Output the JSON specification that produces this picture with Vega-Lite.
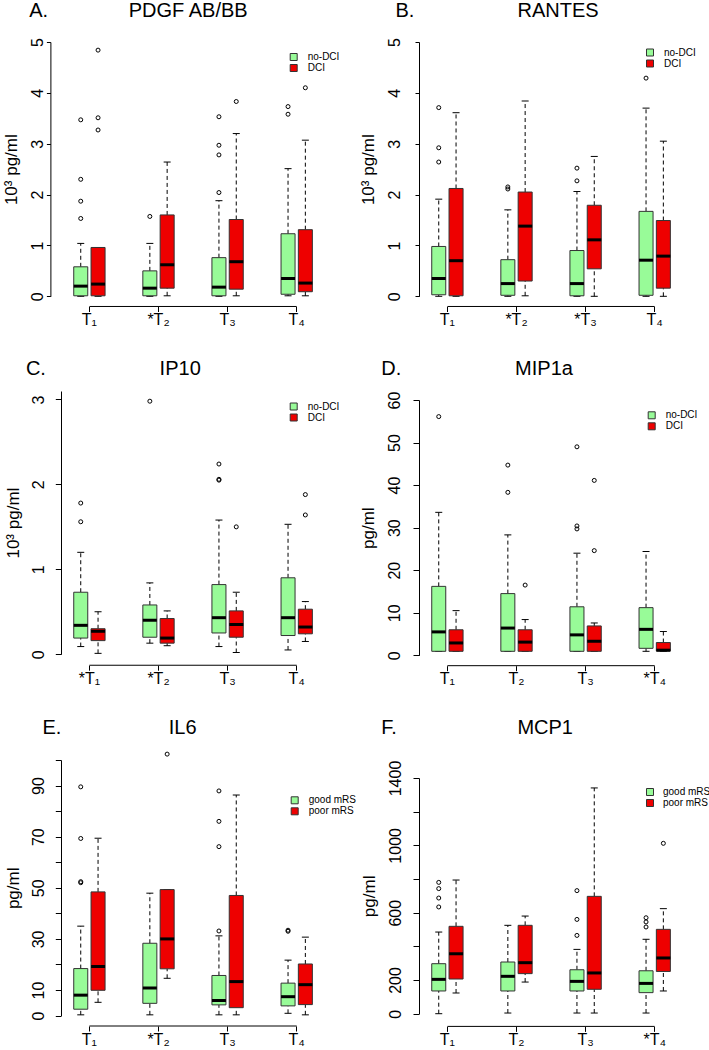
{
"$schema": "https://vega.github.io/schema/vega-lite/v6.json",
"padding": {"left": 2, "top": 0, "right": 0, "bottom": 0},
"config": {"view": {"stroke": null}, "font": "Liberation Sans", "axis": {"grid": false}},
"datasets": {
"box": [
{"p":"A","t":"T1","g":"no-DCI","lo":0,"q1":0.01,"med":0.2,"q3":0.58,"hi":1.04},
{"p":"A","t":"T1","g":"DCI","lo":0,"q1":0.01,"med":0.24,"q3":0.96,"hi":0.96},
{"p":"A","t":"T2","g":"no-DCI","lo":0,"q1":0.01,"med":0.16,"q3":0.5,"hi":1.04},
{"p":"A","t":"T2","g":"DCI","lo":0.01,"q1":0.16,"med":0.62,"q3":1.6,"hi":2.64},
{"p":"A","t":"T3","g":"no-DCI","lo":0,"q1":0.01,"med":0.18,"q3":0.76,"hi":1.88},
{"p":"A","t":"T3","g":"DCI","lo":0.01,"q1":0.14,"med":0.68,"q3":1.51,"hi":3.2},
{"p":"A","t":"T4","g":"no-DCI","lo":0.01,"q1":0.04,"med":0.35,"q3":1.23,"hi":2.51},
{"p":"A","t":"T4","g":"DCI","lo":0.01,"q1":0.09,"med":0.26,"q3":1.31,"hi":3.07},
{"p":"B","t":"T1","g":"no-DCI","lo":0,"q1":0.03,"med":0.35,"q3":0.98,"hi":1.91},
{"p":"B","t":"T1","g":"DCI","lo":0,"q1":0.01,"med":0.7,"q3":2.12,"hi":3.61},
{"p":"B","t":"T2","g":"no-DCI","lo":0,"q1":0.02,"med":0.25,"q3":0.72,"hi":1.7},
{"p":"B","t":"T2","g":"DCI","lo":0.01,"q1":0.3,"med":1.38,"q3":2.05,"hi":3.84},
{"p":"B","t":"T3","g":"no-DCI","lo":0,"q1":0.01,"med":0.25,"q3":0.9,"hi":2.06},
{"p":"B","t":"T3","g":"DCI","lo":0,"q1":0.54,"med":1.11,"q3":1.79,"hi":2.75},
{"p":"B","t":"T4","g":"no-DCI","lo":0,"q1":0.02,"med":0.71,"q3":1.67,"hi":3.7},
{"p":"B","t":"T4","g":"DCI","lo":0,"q1":0.16,"med":0.79,"q3":1.49,"hi":3.05},
{"p":"C","t":"T1","g":"no-DCI","lo":0.09,"q1":0.19,"med":0.34,"q3":0.73,"hi":1.2},
{"p":"C","t":"T1","g":"DCI","lo":0.01,"q1":0.16,"med":0.27,"q3":0.3,"hi":0.5},
{"p":"C","t":"T2","g":"no-DCI","lo":0.13,"q1":0.2,"med":0.4,"q3":0.58,"hi":0.84},
{"p":"C","t":"T2","g":"DCI","lo":0.1,"q1":0.13,"med":0.19,"q3":0.42,"hi":0.51},
{"p":"C","t":"T3","g":"no-DCI","lo":0.09,"q1":0.25,"med":0.43,"q3":0.82,"hi":1.58},
{"p":"C","t":"T3","g":"DCI","lo":0.02,"q1":0.2,"med":0.35,"q3":0.51,"hi":0.73},
{"p":"C","t":"T4","g":"no-DCI","lo":0.05,"q1":0.22,"med":0.43,"q3":0.9,"hi":1.53},
{"p":"C","t":"T4","g":"DCI","lo":0.15,"q1":0.24,"med":0.32,"q3":0.53,"hi":0.62},
{"p":"D","t":"T1","g":"no-DCI","lo":0.94,"q1":0.94,"med":5.5,"q3":16.2,"hi":33.6},
{"p":"D","t":"T1","g":"DCI","lo":0.94,"q1":0.94,"med":2.9,"q3":6.0,"hi":10.5},
{"p":"D","t":"T2","g":"no-DCI","lo":0.94,"q1":0.94,"med":6.4,"q3":14.5,"hi":28.3},
{"p":"D","t":"T2","g":"DCI","lo":0.94,"q1":0.94,"med":3.1,"q3":6.0,"hi":8.4},
{"p":"D","t":"T3","g":"no-DCI","lo":0.94,"q1":0.94,"med":4.8,"q3":11.4,"hi":24.0},
{"p":"D","t":"T3","g":"DCI","lo":0.94,"q1":0.94,"med":3.3,"q3":6.9,"hi":7.6},
{"p":"D","t":"T4","g":"no-DCI","lo":0.94,"q1":1.64,"med":6.1,"q3":11.2,"hi":24.4},
{"p":"D","t":"T4","g":"DCI","lo":0.94,"q1":1.0,"med":1.2,"q3":3.0,"hi":5.6},
{"p":"E","t":"T1","g":"good mRS","lo":0.3,"q1":2.5,"med":8.0,"q3":18.4,"hi":35},
{"p":"E","t":"T1","g":"poor mRS","lo":5.2,"q1":9.9,"med":19.2,"q3":48.4,"hi":69.4},
{"p":"E","t":"T2","g":"good mRS","lo":0.3,"q1":4.8,"med":10.8,"q3":28.3,"hi":47.9},
{"p":"E","t":"T2","g":"poor mRS","lo":14.6,"q1":18.3,"med":30.0,"q3":49.3,"hi":49.3},
{"p":"E","t":"T3","g":"good mRS","lo":0.3,"q1":4.2,"med":5.9,"q3":15.7,"hi":31.2},
{"p":"E","t":"T3","g":"poor mRS","lo":0.3,"q1":3.1,"med":13.3,"q3":47.0,"hi":86.3},
{"p":"E","t":"T4","g":"good mRS","lo":0.9,"q1":3.8,"med":7.4,"q3":12.7,"hi":21.7},
{"p":"E","t":"T4","g":"poor mRS","lo":0.3,"q1":4.3,"med":12.1,"q3":20.2,"hi":30.7},
{"p":"F","t":"T1","g":"good mRS","lo":0,"q1":135,"med":204,"q3":297,"hi":485},
{"p":"F","t":"T1","g":"poor mRS","lo":123,"q1":206,"med":356,"q3":519,"hi":794},
{"p":"F","t":"T2","g":"good mRS","lo":4,"q1":135,"med":222,"q3":307,"hi":525},
{"p":"F","t":"T2","g":"poor mRS","lo":188,"q1":238,"med":303,"q3":525,"hi":580},
{"p":"F","t":"T3","g":"good mRS","lo":4,"q1":135,"med":192,"q3":261,"hi":382},
{"p":"F","t":"T3","g":"poor mRS","lo":4,"q1":145,"med":242,"q3":697,"hi":1341},
{"p":"F","t":"T4","g":"good mRS","lo":4,"q1":125,"med":180,"q3":255,"hi":442},
{"p":"F","t":"T4","g":"poor mRS","lo":135,"q1":251,"med":331,"q3":501,"hi":624}
],
"out": [
{"p":"A","t":"T1","g":"no-DCI","v":1.53},{"p":"A","t":"T1","g":"no-DCI","v":1.87},{"p":"A","t":"T1","g":"no-DCI","v":2.3},{"p":"A","t":"T1","g":"no-DCI","v":3.47},
{"p":"A","t":"T1","g":"DCI","v":3.27},{"p":"A","t":"T1","g":"DCI","v":3.51},{"p":"A","t":"T1","g":"DCI","v":4.84},
{"p":"A","t":"T2","g":"no-DCI","v":1.57},
{"p":"A","t":"T3","g":"no-DCI","v":2.04},{"p":"A","t":"T3","g":"no-DCI","v":2.78},{"p":"A","t":"T3","g":"no-DCI","v":2.97},{"p":"A","t":"T3","g":"no-DCI","v":3.53},
{"p":"A","t":"T3","g":"DCI","v":3.83},
{"p":"A","t":"T4","g":"no-DCI","v":3.58},{"p":"A","t":"T4","g":"no-DCI","v":3.73},
{"p":"A","t":"T4","g":"DCI","v":4.1},
{"p":"B","t":"T1","g":"no-DCI","v":2.64},{"p":"B","t":"T1","g":"no-DCI","v":2.92},{"p":"B","t":"T1","g":"no-DCI","v":3.71},
{"p":"B","t":"T2","g":"no-DCI","v":2.11},{"p":"B","t":"T2","g":"no-DCI","v":2.15},
{"p":"B","t":"T3","g":"no-DCI","v":2.27},{"p":"B","t":"T3","g":"no-DCI","v":2.52},
{"p":"B","t":"T4","g":"no-DCI","v":4.29},
{"p":"C","t":"T1","g":"no-DCI","v":1.56},{"p":"C","t":"T1","g":"no-DCI","v":1.78},
{"p":"C","t":"T2","g":"no-DCI","v":2.98},
{"p":"C","t":"T3","g":"no-DCI","v":2.05},{"p":"C","t":"T3","g":"no-DCI","v":2.06},{"p":"C","t":"T3","g":"no-DCI","v":2.24},
{"p":"C","t":"T3","g":"DCI","v":1.5},
{"p":"C","t":"T4","g":"DCI","v":1.64},{"p":"C","t":"T4","g":"DCI","v":1.88},
{"p":"D","t":"T1","g":"no-DCI","v":56.1},
{"p":"D","t":"T2","g":"no-DCI","v":38.3},{"p":"D","t":"T2","g":"no-DCI","v":44.7},
{"p":"D","t":"T2","g":"DCI","v":16.5},
{"p":"D","t":"T3","g":"no-DCI","v":29.7},{"p":"D","t":"T3","g":"no-DCI","v":30.4},{"p":"D","t":"T3","g":"no-DCI","v":49.0},
{"p":"D","t":"T3","g":"DCI","v":24.6},{"p":"D","t":"T3","g":"DCI","v":41.1},
{"p":"E","t":"T1","g":"good mRS","v":52},{"p":"E","t":"T1","g":"good mRS","v":52.4},{"p":"E","t":"T1","g":"good mRS","v":69.3},{"p":"E","t":"T1","g":"good mRS","v":89.5},
{"p":"E","t":"T2","g":"poor mRS","v":102.3},
{"p":"E","t":"T3","g":"good mRS","v":33.1},{"p":"E","t":"T3","g":"good mRS","v":66.1},{"p":"E","t":"T3","g":"good mRS","v":76.0},{"p":"E","t":"T3","g":"good mRS","v":87.9},
{"p":"E","t":"T4","g":"good mRS","v":33.0},{"p":"E","t":"T4","g":"good mRS","v":33.4},
{"p":"F","t":"T1","g":"good mRS","v":634},{"p":"F","t":"T1","g":"good mRS","v":687},{"p":"F","t":"T1","g":"good mRS","v":743},{"p":"F","t":"T1","g":"good mRS","v":780},
{"p":"F","t":"T3","g":"good mRS","v":465},{"p":"F","t":"T3","g":"good mRS","v":560},{"p":"F","t":"T3","g":"good mRS","v":731},
{"p":"F","t":"T4","g":"good mRS","v":515},{"p":"F","t":"T4","g":"good mRS","v":545},{"p":"F","t":"T4","g":"good mRS","v":570},
{"p":"F","t":"T4","g":"poor mRS","v":1012}
]
},
"spacing": 1,
"resolve": {"scale": {"x": "independent", "y": "independent", "color": "independent", "xOffset": "independent"}, "legend": {"color": "independent"}},
"hconcat": [
{"vconcat": [
{"width": 264.1, "height": 254.3, "data": {"name": "box"}, "transform": [{"filter": "datum.p == 'A'"}], "resolve": {"axis": {"x": "independent"}},
"layer": [
{"mark": {"type": "rule", "color": "black", "strokeWidth": 1, "strokeDash": [4, 3]},
 "encoding": {
  "x": {"field": "t", "type": "nominal", "scale": {"domain": ["T1","T2","T3","T4"], "paddingInner": 0.5, "paddingOuter": 0.161},
        "axis": {"orient": "bottom", "domain": false, "offset": 10.2, "tickSize": 5, "tickColor": "black", "labelColor": "black", "labelFontSize": 16, "labelPadding": 0, "labelAngle": 0, "title": null, "labelExpr": "datum.value=='T1'?'T₁':datum.value=='T2'?'*T₂':datum.value=='T3'?'T₃':'T₄'"}},
  "xOffset": {"field": "g", "type": "nominal", "scale": {"domain": ["no-DCI","DCI"], "paddingInner": 0.19, "paddingOuter": 0.093}},
  "y": {"field": "lo", "type": "quantitative", "scale": {"domain": [0, 5], "nice": false, "zero": false},
        "axis": {"values": [0,1,2,3,4,5], "tickCount": 20, "format": "d", "labelOverlap": false, "offset": 10.6, "tickSize": 4, "labelPadding": 1, "labelAngle": -90, "labelFontSize": 16, "labelColor": "black", "tickColor": "black", "domainColor": "black", "title": "10³ pg/ml", "titleFontSize": 17, "titleFontWeight": "normal", "titleColor": "black", "titlePadding": 9}},
  "y2": {"field": "q1"}}},
{"mark": {"type": "rule", "color": "black", "strokeWidth": 1, "strokeDash": [4, 3]},
 "encoding": {"x": {"field": "t", "type": "nominal", "axis": null}, "xOffset": {"field": "g", "type": "nominal"}, "y": {"field": "q3", "type": "quantitative"}, "y2": {"field": "hi"}}},
{"mark": {"type": "tick", "color": "black", "size": 7, "thickness": 1, "opacity": 1},
 "encoding": {"x": {"field": "t", "type": "nominal", "axis": {"orient": "top", "domain": false, "ticks": false, "labels": false, "title": "PDGF AB/BB", "titleFontSize": 20, "titleFontWeight": "normal", "titleColor": "black", "titleX": 126.7, "titleY": -26, "titleAlign": "center", "titleBaseline": "alphabetic", "titleAngle": 0}}, "xOffset": {"field": "g", "type": "nominal"}, "y": {"field": "lo", "type": "quantitative"}}},
{"mark": {"type": "tick", "color": "black", "size": 7, "thickness": 1, "opacity": 1},
 "encoding": {"x": {"field": "t", "type": "nominal", "axis": {"orient": "top", "domain": false, "ticks": false, "labels": false, "title": "A.", "titleFontSize": 20, "titleFontWeight": "normal", "titleColor": "black", "titleX": -32.3, "titleY": -26, "titleAlign": "left", "titleBaseline": "alphabetic", "titleAngle": 0}}, "xOffset": {"field": "g", "type": "nominal"}, "y": {"field": "hi", "type": "quantitative"}}},
{"mark": {"type": "bar", "stroke": "#333333", "strokeWidth": 1, "opacity": 1},
 "encoding": {"x": {"field": "t", "type": "nominal", "axis": null}, "xOffset": {"field": "g", "type": "nominal"}, "y": {"field": "q1", "type": "quantitative"}, "y2": {"field": "q3"},
  "color": {"field": "g", "type": "nominal", "scale": {"domain": ["no-DCI","DCI"], "range": ["#98FB98","#EE0000"]}, "legend": {"orient": "none", "legendX": 227.7, "legendY": 10, "title": null, "symbolType": "square", "symbolSize": 49, "symbolStrokeColor": "#333333", "symbolStrokeWidth": 1, "symbolOpacity": 1, "labelFontSize": 10, "labelColor": "black", "labelOffset": 9, "rowPadding": -3, "padding": 0}}}},
{"mark": {"type": "tick", "color": "black", "size": 14, "thickness": 3, "opacity": 1},
 "encoding": {"x": {"field": "t", "type": "nominal", "axis": null}, "xOffset": {"field": "g", "type": "nominal"}, "y": {"field": "med", "type": "quantitative"}}},
{"data": {"name": "out"}, "transform": [{"filter": "datum.p == 'A'"}],
 "mark": {"type": "point", "shape": "circle", "filled": false, "size": 16, "color": "black", "strokeWidth": 1, "opacity": 1},
 "encoding": {"x": {"field": "t", "type": "nominal", "axis": null}, "xOffset": {"field": "g", "type": "nominal"}, "y": {"field": "v", "type": "quantitative"}}},
{"data": {"values": [{}]}, "mark": {"type": "rule", "color": "black", "strokeWidth": 1},
 "encoding": {"x": {"datum": "T1", "type": "nominal", "bandPosition": 0.5, "axis": null}, "x2": {"datum": "T4", "bandPosition": 0.5}, "y": {"datum": -0.2, "type": "quantitative"}}}
]},
{"width": 264.1, "height": 263.2, "data": {"name": "box"}, "transform": [{"filter": "datum.p == 'C'"}], "resolve": {"axis": {"x": "independent"}},
"layer": [
{"mark": {"type": "rule", "color": "black", "strokeWidth": 1, "strokeDash": [4, 3]},
 "encoding": {
  "x": {"field": "t", "type": "nominal", "scale": {"domain": ["T1","T2","T3","T4"], "paddingInner": 0.5, "paddingOuter": 0.161},
        "axis": {"orient": "bottom", "domain": false, "offset": 11, "tickSize": 5, "tickColor": "black", "labelColor": "black", "labelFontSize": 16, "labelPadding": 0, "labelAngle": 0, "title": null, "labelExpr": "datum.value=='T1'?'*T₁':datum.value=='T2'?'*T₂':datum.value=='T3'?'T₃':'T₄'"}},
  "xOffset": {"field": "g", "type": "nominal", "scale": {"domain": ["no-DCI","DCI"], "paddingInner": 0.19, "paddingOuter": 0.093}},
  "y": {"field": "lo", "type": "quantitative", "scale": {"domain": [0, 3.1], "nice": false, "zero": false},
        "axis": {"values": [0,1,2,3], "tickCount": 20, "format": "d", "labelOverlap": false, "tickSize": 5.7, "labelPadding": 8.6, "labelAngle": -90, "labelFontSize": 16, "labelColor": "black", "tickColor": "black", "domainColor": "black", "title": "10³ pg/ml", "titleFontSize": 17, "titleFontWeight": "normal", "titleColor": "black", "titlePadding": 8}},
  "y2": {"field": "q1"}}},
{"mark": {"type": "rule", "color": "black", "strokeWidth": 1, "strokeDash": [4, 3]},
 "encoding": {"x": {"field": "t", "type": "nominal", "axis": null}, "xOffset": {"field": "g", "type": "nominal"}, "y": {"field": "q3", "type": "quantitative"}, "y2": {"field": "hi"}}},
{"mark": {"type": "tick", "color": "black", "size": 7, "thickness": 1, "opacity": 1},
 "encoding": {"x": {"field": "t", "type": "nominal", "axis": {"orient": "top", "domain": false, "ticks": false, "labels": false, "title": "IP10", "titleFontSize": 20, "titleFontWeight": "normal", "titleColor": "black", "titleX": 118.7, "titleY": -16.8, "titleAlign": "center", "titleBaseline": "alphabetic", "titleAngle": 0}}, "xOffset": {"field": "g", "type": "nominal"}, "y": {"field": "lo", "type": "quantitative"}}},
{"mark": {"type": "tick", "color": "black", "size": 7, "thickness": 1, "opacity": 1},
 "encoding": {"x": {"field": "t", "type": "nominal", "axis": {"orient": "top", "domain": false, "ticks": false, "labels": false, "title": "C.", "titleFontSize": 20, "titleFontWeight": "normal", "titleColor": "black", "titleX": -35.6, "titleY": -16.8, "titleAlign": "left", "titleBaseline": "alphabetic", "titleAngle": 0}}, "xOffset": {"field": "g", "type": "nominal"}, "y": {"field": "hi", "type": "quantitative"}}},
{"mark": {"type": "bar", "stroke": "#333333", "strokeWidth": 1, "opacity": 1},
 "encoding": {"x": {"field": "t", "type": "nominal", "axis": null}, "xOffset": {"field": "g", "type": "nominal"}, "y": {"field": "q1", "type": "quantitative"}, "y2": {"field": "q3"},
  "color": {"field": "g", "type": "nominal", "scale": {"domain": ["no-DCI","DCI"], "range": ["#98FB98","#EE0000"]}, "legend": {"orient": "none", "legendX": 227.7, "legendY": 10.5, "title": null, "symbolType": "square", "symbolSize": 49, "symbolStrokeColor": "#333333", "symbolStrokeWidth": 1, "symbolOpacity": 1, "labelFontSize": 10, "labelColor": "black", "labelOffset": 9, "rowPadding": -3, "padding": 0}}}},
{"mark": {"type": "tick", "color": "black", "size": 14, "thickness": 3, "opacity": 1},
 "encoding": {"x": {"field": "t", "type": "nominal", "axis": null}, "xOffset": {"field": "g", "type": "nominal"}, "y": {"field": "med", "type": "quantitative"}}},
{"data": {"name": "out"}, "transform": [{"filter": "datum.p == 'C'"}],
 "mark": {"type": "point", "shape": "circle", "filled": false, "size": 16, "color": "black", "strokeWidth": 1, "opacity": 1},
 "encoding": {"x": {"field": "t", "type": "nominal", "axis": null}, "xOffset": {"field": "g", "type": "nominal"}, "y": {"field": "v", "type": "quantitative"}}},
{"data": {"values": [{}]}, "mark": {"type": "rule", "color": "black", "strokeWidth": 1},
 "encoding": {"x": {"datum": "T1", "type": "nominal", "bandPosition": 0.5, "axis": null}, "x2": {"datum": "T4", "bandPosition": 0.5}, "y": {"datum": -0.13, "type": "quantitative"}}}
]},
{"width": 264.1, "height": 255.6, "data": {"name": "box"}, "transform": [{"filter": "datum.p == 'E'"}], "resolve": {"axis": {"x": "independent"}},
"layer": [
{"mark": {"type": "rule", "color": "black", "strokeWidth": 1, "strokeDash": [4, 3]},
 "encoding": {
  "x": {"field": "t", "type": "nominal", "scale": {"domain": ["T1","T2","T3","T4"], "paddingInner": 0.5, "paddingOuter": 0.161},
        "axis": {"orient": "bottom", "domain": false, "offset": 10.4, "tickSize": 5, "tickColor": "black", "labelColor": "black", "labelFontSize": 16, "labelPadding": 0, "labelAngle": 0, "title": null, "labelExpr": "datum.value=='T1'?'T₁':datum.value=='T2'?'*T₂':datum.value=='T3'?'T₃':'T₄'"}},
  "xOffset": {"field": "g", "type": "nominal", "scale": {"domain": ["good mRS","poor mRS"], "paddingInner": 0.19, "paddingOuter": 0.093}},
  "y": {"field": "lo", "type": "quantitative", "scale": {"domain": [0, 100], "nice": false, "zero": false},
        "axis": {"values": [0,10,20,30,40,50,60,70,80,90,100], "tickCount": 20, "labelExpr": "(datum.value == 0 || datum.value == 10 || datum.value == 30 || datum.value == 50 || datum.value == 70 || datum.value == 90) ? datum.label : ''", "labelOverlap": false, "tickSize": 5.7, "labelPadding": 8.6, "labelAngle": -90, "labelFontSize": 16, "labelColor": "black", "tickColor": "black", "domainColor": "black", "title": "pg/ml", "titleFontSize": 17, "titleFontWeight": "normal", "titleColor": "black", "titlePadding": 8}},
  "y2": {"field": "q1"}}},
{"mark": {"type": "rule", "color": "black", "strokeWidth": 1, "strokeDash": [4, 3]},
 "encoding": {"x": {"field": "t", "type": "nominal", "axis": null}, "xOffset": {"field": "g", "type": "nominal"}, "y": {"field": "q3", "type": "quantitative"}, "y2": {"field": "hi"}}},
{"mark": {"type": "tick", "color": "black", "size": 7, "thickness": 1, "opacity": 1},
 "encoding": {"x": {"field": "t", "type": "nominal", "axis": {"orient": "top", "domain": false, "ticks": false, "labels": false, "title": "IL6", "titleFontSize": 20, "titleFontWeight": "normal", "titleColor": "black", "titleX": 121.2, "titleY": -26.7, "titleAlign": "center", "titleBaseline": "alphabetic", "titleAngle": 0}}, "xOffset": {"field": "g", "type": "nominal"}, "y": {"field": "lo", "type": "quantitative"}}},
{"mark": {"type": "tick", "color": "black", "size": 7, "thickness": 1, "opacity": 1},
 "encoding": {"x": {"field": "t", "type": "nominal", "axis": {"orient": "top", "domain": false, "ticks": false, "labels": false, "title": "E.", "titleFontSize": 20, "titleFontWeight": "normal", "titleColor": "black", "titleX": -19, "titleY": -26.7, "titleAlign": "left", "titleBaseline": "alphabetic", "titleAngle": 0}}, "xOffset": {"field": "g", "type": "nominal"}, "y": {"field": "hi", "type": "quantitative"}}},
{"mark": {"type": "bar", "stroke": "#333333", "strokeWidth": 1, "opacity": 1},
 "encoding": {"x": {"field": "t", "type": "nominal", "axis": null}, "xOffset": {"field": "g", "type": "nominal"}, "y": {"field": "q1", "type": "quantitative"}, "y2": {"field": "q3"},
  "color": {"field": "g", "type": "nominal", "scale": {"domain": ["good mRS","poor mRS"], "range": ["#98FB98","#EE0000"]}, "legend": {"orient": "none", "legendX": 228.7, "legendY": 35.3, "title": null, "symbolType": "square", "symbolSize": 49, "symbolStrokeColor": "#333333", "symbolStrokeWidth": 1, "symbolOpacity": 1, "labelFontSize": 10, "labelColor": "black", "labelOffset": 9, "rowPadding": -3, "padding": 0}}}},
{"mark": {"type": "tick", "color": "black", "size": 14, "thickness": 3, "opacity": 1},
 "encoding": {"x": {"field": "t", "type": "nominal", "axis": null}, "xOffset": {"field": "g", "type": "nominal"}, "y": {"field": "med", "type": "quantitative"}}},
{"data": {"name": "out"}, "transform": [{"filter": "datum.p == 'E'"}],
 "mark": {"type": "point", "shape": "circle", "filled": false, "size": 16, "color": "black", "strokeWidth": 1, "opacity": 1},
 "encoding": {"x": {"field": "t", "type": "nominal", "axis": null}, "xOffset": {"field": "g", "type": "nominal"}, "y": {"field": "v", "type": "quantitative"}}},
{"data": {"values": [{}]}, "mark": {"type": "rule", "color": "black", "strokeWidth": 1},
 "encoding": {"x": {"datum": "T1", "type": "nominal", "bandPosition": 0.5, "axis": null}, "x2": {"datum": "T4", "bandPosition": 0.5}, "y": {"datum": -4.07, "type": "quantitative"}}}
]}
], "spacing": 30, "resolve": {"scale": {"x": "independent", "y": "independent", "color": "independent", "xOffset": "independent"}, "legend": {"color": "independent"}}},
{"vconcat": [
{"width": 264.1, "height": 254.3, "data": {"name": "box"}, "transform": [{"filter": "datum.p == 'B'"}], "resolve": {"axis": {"x": "independent"}},
"layer": [
{"mark": {"type": "rule", "color": "black", "strokeWidth": 1, "strokeDash": [4, 3]},
 "encoding": {
  "x": {"field": "t", "type": "nominal", "scale": {"domain": ["T1","T2","T3","T4"], "paddingInner": 0.5, "paddingOuter": 0.161},
        "axis": {"orient": "bottom", "domain": false, "offset": 10.2, "tickSize": 5, "tickColor": "black", "labelColor": "black", "labelFontSize": 16, "labelPadding": 0, "labelAngle": 0, "title": null, "labelExpr": "datum.value=='T1'?'T₁':datum.value=='T2'?'*T₂':datum.value=='T3'?'*T₃':'T₄'"}},
  "xOffset": {"field": "g", "type": "nominal", "scale": {"domain": ["no-DCI","DCI"], "paddingInner": 0.19, "paddingOuter": 0.093}},
  "y": {"field": "lo", "type": "quantitative", "scale": {"domain": [0, 5], "nice": false, "zero": false},
        "axis": {"values": [0,1,2,3,4,5], "tickCount": 20, "format": "d", "labelOverlap": false, "tickSize": 4, "labelPadding": 13, "labelAngle": -90, "labelFontSize": 16, "labelColor": "black", "tickColor": "black", "domainColor": "black", "title": "10³ pg/ml", "titleFontSize": 17, "titleFontWeight": "normal", "titleColor": "black", "titlePadding": 9}},
  "y2": {"field": "q1"}}},
{"mark": {"type": "rule", "color": "black", "strokeWidth": 1, "strokeDash": [4, 3]},
 "encoding": {"x": {"field": "t", "type": "nominal", "axis": null}, "xOffset": {"field": "g", "type": "nominal"}, "y": {"field": "q3", "type": "quantitative"}, "y2": {"field": "hi"}}},
{"mark": {"type": "tick", "color": "black", "size": 7, "thickness": 1, "opacity": 1},
 "encoding": {"x": {"field": "t", "type": "nominal", "axis": {"orient": "top", "domain": false, "ticks": false, "labels": false, "title": "RANTES", "titleFontSize": 20, "titleFontWeight": "normal", "titleColor": "black", "titleX": 138.5, "titleY": -26, "titleAlign": "center", "titleBaseline": "alphabetic", "titleAngle": 0}}, "xOffset": {"field": "g", "type": "nominal"}, "y": {"field": "lo", "type": "quantitative"}}},
{"mark": {"type": "tick", "color": "black", "size": 7, "thickness": 1, "opacity": 1},
 "encoding": {"x": {"field": "t", "type": "nominal", "axis": {"orient": "top", "domain": false, "ticks": false, "labels": false, "title": "B.", "titleFontSize": 20, "titleFontWeight": "normal", "titleColor": "black", "titleX": -24, "titleY": -26, "titleAlign": "left", "titleBaseline": "alphabetic", "titleAngle": 0}}, "xOffset": {"field": "g", "type": "nominal"}, "y": {"field": "hi", "type": "quantitative"}}},
{"mark": {"type": "bar", "stroke": "#333333", "strokeWidth": 1, "opacity": 1},
 "encoding": {"x": {"field": "t", "type": "nominal", "axis": null}, "xOffset": {"field": "g", "type": "nominal"}, "y": {"field": "q1", "type": "quantitative"}, "y2": {"field": "q3"},
  "color": {"field": "g", "type": "nominal", "scale": {"domain": ["no-DCI","DCI"], "range": ["#98FB98","#EE0000"]}, "legend": {"orient": "none", "legendX": 226, "legendY": 5.5, "title": null, "symbolType": "square", "symbolSize": 49, "symbolStrokeColor": "#333333", "symbolStrokeWidth": 1, "symbolOpacity": 1, "labelFontSize": 10, "labelColor": "black", "labelOffset": 9, "rowPadding": -3, "padding": 0}}}},
{"mark": {"type": "tick", "color": "black", "size": 14, "thickness": 3, "opacity": 1},
 "encoding": {"x": {"field": "t", "type": "nominal", "axis": null}, "xOffset": {"field": "g", "type": "nominal"}, "y": {"field": "med", "type": "quantitative"}}},
{"data": {"name": "out"}, "transform": [{"filter": "datum.p == 'B'"}],
 "mark": {"type": "point", "shape": "circle", "filled": false, "size": 16, "color": "black", "strokeWidth": 1, "opacity": 1},
 "encoding": {"x": {"field": "t", "type": "nominal", "axis": null}, "xOffset": {"field": "g", "type": "nominal"}, "y": {"field": "v", "type": "quantitative"}}},
{"data": {"values": [{}]}, "mark": {"type": "rule", "color": "black", "strokeWidth": 1},
 "encoding": {"x": {"datum": "T1", "type": "nominal", "bandPosition": 0.5, "axis": null}, "x2": {"datum": "T4", "bandPosition": 0.5}, "y": {"datum": -0.2, "type": "quantitative"}}}
]},
{"width": 264.1, "height": 255.3, "data": {"name": "box"}, "transform": [{"filter": "datum.p == 'D'"}], "resolve": {"axis": {"x": "independent"}},
"layer": [
{"mark": {"type": "rule", "color": "black", "strokeWidth": 1, "strokeDash": [4, 3]},
 "encoding": {
  "x": {"field": "t", "type": "nominal", "scale": {"domain": ["T1","T2","T3","T4"], "paddingInner": 0.5, "paddingOuter": 0.161},
        "axis": {"orient": "bottom", "domain": false, "offset": 10.4, "tickSize": 5, "tickColor": "black", "labelColor": "black", "labelFontSize": 16, "labelPadding": 0, "labelAngle": 0, "title": null, "labelExpr": "datum.value=='T1'?'T₁':datum.value=='T2'?'T₂':datum.value=='T3'?'T₃':'*T₄'"}},
  "xOffset": {"field": "g", "type": "nominal", "scale": {"domain": ["no-DCI","DCI"], "paddingInner": 0.19, "paddingOuter": 0.093}},
  "y": {"field": "lo", "type": "quantitative", "scale": {"domain": [0, 60], "nice": false, "zero": false},
        "axis": {"values": [0,10,20,30,40,50,60], "tickCount": 20, "labelOverlap": false, "tickSize": 6, "labelPadding": 10.5, "labelAngle": -90, "labelFontSize": 16, "labelColor": "black", "tickColor": "black", "domainColor": "black", "title": "pg/ml", "titleFontSize": 17, "titleFontWeight": "normal", "titleColor": "black", "titlePadding": 9}},
  "y2": {"field": "q1"}}},
{"mark": {"type": "rule", "color": "black", "strokeWidth": 1, "strokeDash": [4, 3]},
 "encoding": {"x": {"field": "t", "type": "nominal", "axis": null}, "xOffset": {"field": "g", "type": "nominal"}, "y": {"field": "q3", "type": "quantitative"}, "y2": {"field": "hi"}}},
{"mark": {"type": "tick", "color": "black", "size": 7, "thickness": 1, "opacity": 1},
 "encoding": {"x": {"field": "t", "type": "nominal", "axis": {"orient": "top", "domain": false, "ticks": false, "labels": false, "title": "MIP1a", "titleFontSize": 20, "titleFontWeight": "normal", "titleColor": "black", "titleX": 124.5, "titleY": -25.3, "titleAlign": "center", "titleBaseline": "alphabetic", "titleAngle": 0}}, "xOffset": {"field": "g", "type": "nominal"}, "y": {"field": "lo", "type": "quantitative"}}},
{"mark": {"type": "tick", "color": "black", "size": 7, "thickness": 1, "opacity": 1},
 "encoding": {"x": {"field": "t", "type": "nominal", "axis": {"orient": "top", "domain": false, "ticks": false, "labels": false, "title": "D.", "titleFontSize": 20, "titleFontWeight": "normal", "titleColor": "black", "titleX": -38.3, "titleY": -25.3, "titleAlign": "left", "titleBaseline": "alphabetic", "titleAngle": 0}}, "xOffset": {"field": "g", "type": "nominal"}, "y": {"field": "hi", "type": "quantitative"}}},
{"mark": {"type": "bar", "stroke": "#333333", "strokeWidth": 1, "opacity": 1},
 "encoding": {"x": {"field": "t", "type": "nominal", "axis": null}, "xOffset": {"field": "g", "type": "nominal"}, "y": {"field": "q1", "type": "quantitative"}, "y2": {"field": "q3"},
  "color": {"field": "g", "type": "nominal", "scale": {"domain": ["no-DCI","DCI"], "range": ["#98FB98","#EE0000"]}, "legend": {"orient": "none", "legendX": 227.7, "legendY": 10.3, "title": null, "symbolType": "square", "symbolSize": 49, "symbolStrokeColor": "#333333", "symbolStrokeWidth": 1, "symbolOpacity": 1, "labelFontSize": 10, "labelColor": "black", "labelOffset": 9, "rowPadding": -3, "padding": 0}}}},
{"mark": {"type": "tick", "color": "black", "size": 14, "thickness": 3, "opacity": 1},
 "encoding": {"x": {"field": "t", "type": "nominal", "axis": null}, "xOffset": {"field": "g", "type": "nominal"}, "y": {"field": "med", "type": "quantitative"}}},
{"data": {"name": "out"}, "transform": [{"filter": "datum.p == 'D'"}],
 "mark": {"type": "point", "shape": "circle", "filled": false, "size": 16, "color": "black", "strokeWidth": 1, "opacity": 1},
 "encoding": {"x": {"field": "t", "type": "nominal", "axis": null}, "xOffset": {"field": "g", "type": "nominal"}, "y": {"field": "v", "type": "quantitative"}}},
{"data": {"values": [{}]}, "mark": {"type": "rule", "color": "black", "strokeWidth": 1},
 "encoding": {"x": {"datum": "T1", "type": "nominal", "bandPosition": 0.5, "axis": null}, "x2": {"datum": "T4", "bandPosition": 0.5}, "y": {"datum": -2.44, "type": "quantitative"}}}
]},
{"width": 264.1, "height": 235.7, "data": {"name": "box"}, "transform": [{"filter": "datum.p == 'F'"}], "resolve": {"axis": {"x": "independent"}},
"layer": [
{"mark": {"type": "rule", "color": "black", "strokeWidth": 1, "strokeDash": [4, 3]},
 "encoding": {
  "x": {"field": "t", "type": "nominal", "scale": {"domain": ["T1","T2","T3","T4"], "paddingInner": 0.5, "paddingOuter": 0.161},
        "axis": {"orient": "bottom", "domain": false, "offset": 12.7, "tickSize": 5, "tickColor": "black", "labelColor": "black", "labelFontSize": 16, "labelPadding": 0, "labelAngle": 0, "title": null, "labelExpr": "datum.value=='T1'?'T₁':datum.value=='T2'?'T₂':datum.value=='T3'?'T₃':'*T₄'"}},
  "xOffset": {"field": "g", "type": "nominal", "scale": {"domain": ["good mRS","poor mRS"], "paddingInner": 0.19, "paddingOuter": 0.093}},
  "y": {"field": "lo", "type": "quantitative", "scale": {"domain": [0, 1400], "nice": false, "zero": false},
        "axis": {"values": [0,200,400,600,800,1000,1200,1400], "tickCount": 20, "labelExpr": "(datum.value == 0 || datum.value == 200 || datum.value == 600 || datum.value == 1000 || datum.value == 1400) ? datum.label : ''", "format": "d", "labelOverlap": false, "tickSize": 6, "labelPadding": 10, "labelAngle": -90, "labelFontSize": 16, "labelColor": "black", "tickColor": "black", "domainColor": "black", "title": "pg/ml", "titleFontSize": 17, "titleFontWeight": "normal", "titleColor": "black", "titlePadding": 9}},
  "y2": {"field": "q1"}}},
{"mark": {"type": "rule", "color": "black", "strokeWidth": 1, "strokeDash": [4, 3]},
 "encoding": {"x": {"field": "t", "type": "nominal", "axis": null}, "xOffset": {"field": "g", "type": "nominal"}, "y": {"field": "q3", "type": "quantitative"}, "y2": {"field": "hi"}}},
{"mark": {"type": "tick", "color": "black", "size": 7, "thickness": 1, "opacity": 1},
 "encoding": {"x": {"field": "t", "type": "nominal", "axis": {"orient": "top", "domain": false, "ticks": false, "labels": false, "title": "MCP1", "titleFontSize": 20, "titleFontWeight": "normal", "titleColor": "black", "titleX": 125.7, "titleY": -44.3, "titleAlign": "center", "titleBaseline": "alphabetic", "titleAngle": 0}}, "xOffset": {"field": "g", "type": "nominal"}, "y": {"field": "lo", "type": "quantitative"}}},
{"mark": {"type": "tick", "color": "black", "size": 7, "thickness": 1, "opacity": 1},
 "encoding": {"x": {"field": "t", "type": "nominal", "axis": {"orient": "top", "domain": false, "ticks": false, "labels": false, "title": "F.", "titleFontSize": 20, "titleFontWeight": "normal", "titleColor": "black", "titleX": -38.3, "titleY": -44.3, "titleAlign": "left", "titleBaseline": "alphabetic", "titleAngle": 0}}, "xOffset": {"field": "g", "type": "nominal"}, "y": {"field": "hi", "type": "quantitative"}}},
{"mark": {"type": "bar", "stroke": "#333333", "strokeWidth": 1, "opacity": 1},
 "encoding": {"x": {"field": "t", "type": "nominal", "axis": null}, "xOffset": {"field": "g", "type": "nominal"}, "y": {"field": "q1", "type": "quantitative"}, "y2": {"field": "q3"},
  "color": {"field": "g", "type": "nominal", "scale": {"domain": ["good mRS","poor mRS"], "range": ["#98FB98","#EE0000"]}, "legend": {"orient": "none", "legendX": 226, "legendY": 9, "title": null, "symbolType": "square", "symbolSize": 49, "symbolStrokeColor": "#333333", "symbolStrokeWidth": 1, "symbolOpacity": 1, "labelFontSize": 10, "labelColor": "black", "labelOffset": 8, "rowPadding": -3, "padding": 0}}}},
{"mark": {"type": "tick", "color": "black", "size": 14, "thickness": 3, "opacity": 1},
 "encoding": {"x": {"field": "t", "type": "nominal", "axis": null}, "xOffset": {"field": "g", "type": "nominal"}, "y": {"field": "med", "type": "quantitative"}}},
{"data": {"name": "out"}, "transform": [{"filter": "datum.p == 'F'"}],
 "mark": {"type": "point", "shape": "circle", "filled": false, "size": 16, "color": "black", "strokeWidth": 1, "opacity": 1},
 "encoding": {"x": {"field": "t", "type": "nominal", "axis": null}, "xOffset": {"field": "g", "type": "nominal"}, "y": {"field": "v", "type": "quantitative"}}},
{"data": {"values": [{}]}, "mark": {"type": "rule", "color": "black", "strokeWidth": 1},
 "encoding": {"x": {"datum": "T1", "type": "nominal", "bandPosition": 0.5, "axis": null}, "x2": {"datum": "T4", "bandPosition": 0.5}, "y": {"datum": -75.4, "type": "quantitative"}}}
]}
], "spacing": 30, "resolve": {"scale": {"x": "independent", "y": "independent", "color": "independent", "xOffset": "independent"}, "legend": {"color": "independent"}}}
]
}
